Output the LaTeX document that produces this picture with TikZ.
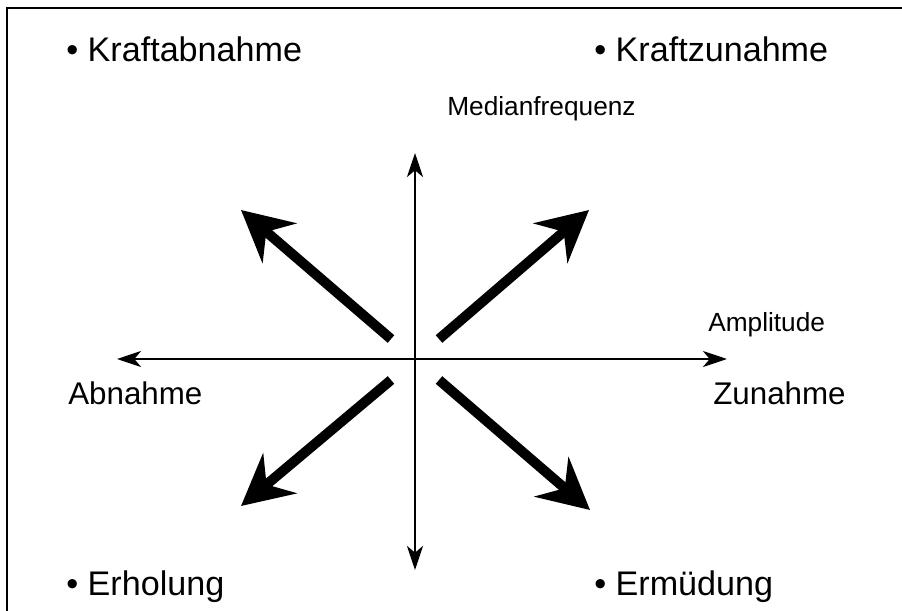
\documentclass[tikz,border=0pt]{standalone}
\usepackage{fontspec}
\setmainfont{Liberation Sans}
\usetikzlibrary{arrows.meta}
\begin{document}
\begin{tikzpicture}[x=0.75pt,y=-0.75pt,
  axis/.style={line width=2.2pt,-{Stealth[length=18pt,width=12pt,inset=5pt]}},
  bigarrow/.style={line width=7.5pt,-{Stealth[length=38pt,width=39pt,inset=13pt]}},
  itemtext/.style={anchor=base west,inner sep=0pt,font=\fontsize{25.6}{30}\selectfont},
  bigtext/.style={anchor=base west,inner sep=0pt,font=\fontsize{23.5}{28}\selectfont},
  smalltext/.style={anchor=base west,inner sep=0pt,font=\fontsize{19.7}{23}\selectfont}]
  \useasboundingbox (0,0) rectangle (902,610);
  \clip (0,0) rectangle (902,610);
  % outer frame (right and bottom edges lie outside the page)
  \draw[line width=1.5pt] (7,8.5) rectangle (920,630);

  % axes
  \coordinate (c) at (415,359);
  \coordinate (xl) at (117,359);
  \coordinate (xr) at (727,359);
  \coordinate (yt) at (415,153);
  \coordinate (yb) at (415,570);
  \draw[axis] (c) -- (xl);
  \draw[axis] (c) -- (xr);
  \draw[axis] (c) -- (yt);
  \draw[axis] (c) -- (yb);

  % diagonal arrows
  \coordinate (nwS) at (391,339); \coordinate (nwE) at (241,210);
  \coordinate (neS) at (439,339); \coordinate (neE) at (589,210);
  \coordinate (swS) at (391,380); \coordinate (swE) at (241,506);
  \coordinate (seS) at (439,380); \coordinate (seE) at (590,510);
  \draw[bigarrow] (nwS) -- (nwE);
  \draw[bigarrow] (neS) -- (neE);
  \draw[bigarrow] (swS) -- (swE);
  \draw[bigarrow] (seS) -- (seE);

  % labels
  \node[itemtext] (ka) at (66,62) {• Kraftabnahme};
  \node[itemtext] (kz) at (594,62) {• Kraftzunahme};
  \node[smalltext] (mf) at (447,115) {Medianfrequenz};
  \node[smalltext] (am) at (708,331) {Amplitude};
  \node[bigtext] (ab) at (68,404) {Abnahme};
  \node[bigtext] (zu) at (713,404) {Zunahme};
  \node[itemtext] (er) at (66,595) {• Erholung};
  \node[itemtext] (em) at (594,595) {• Ermüdung};
\end{tikzpicture}
\end{document}
